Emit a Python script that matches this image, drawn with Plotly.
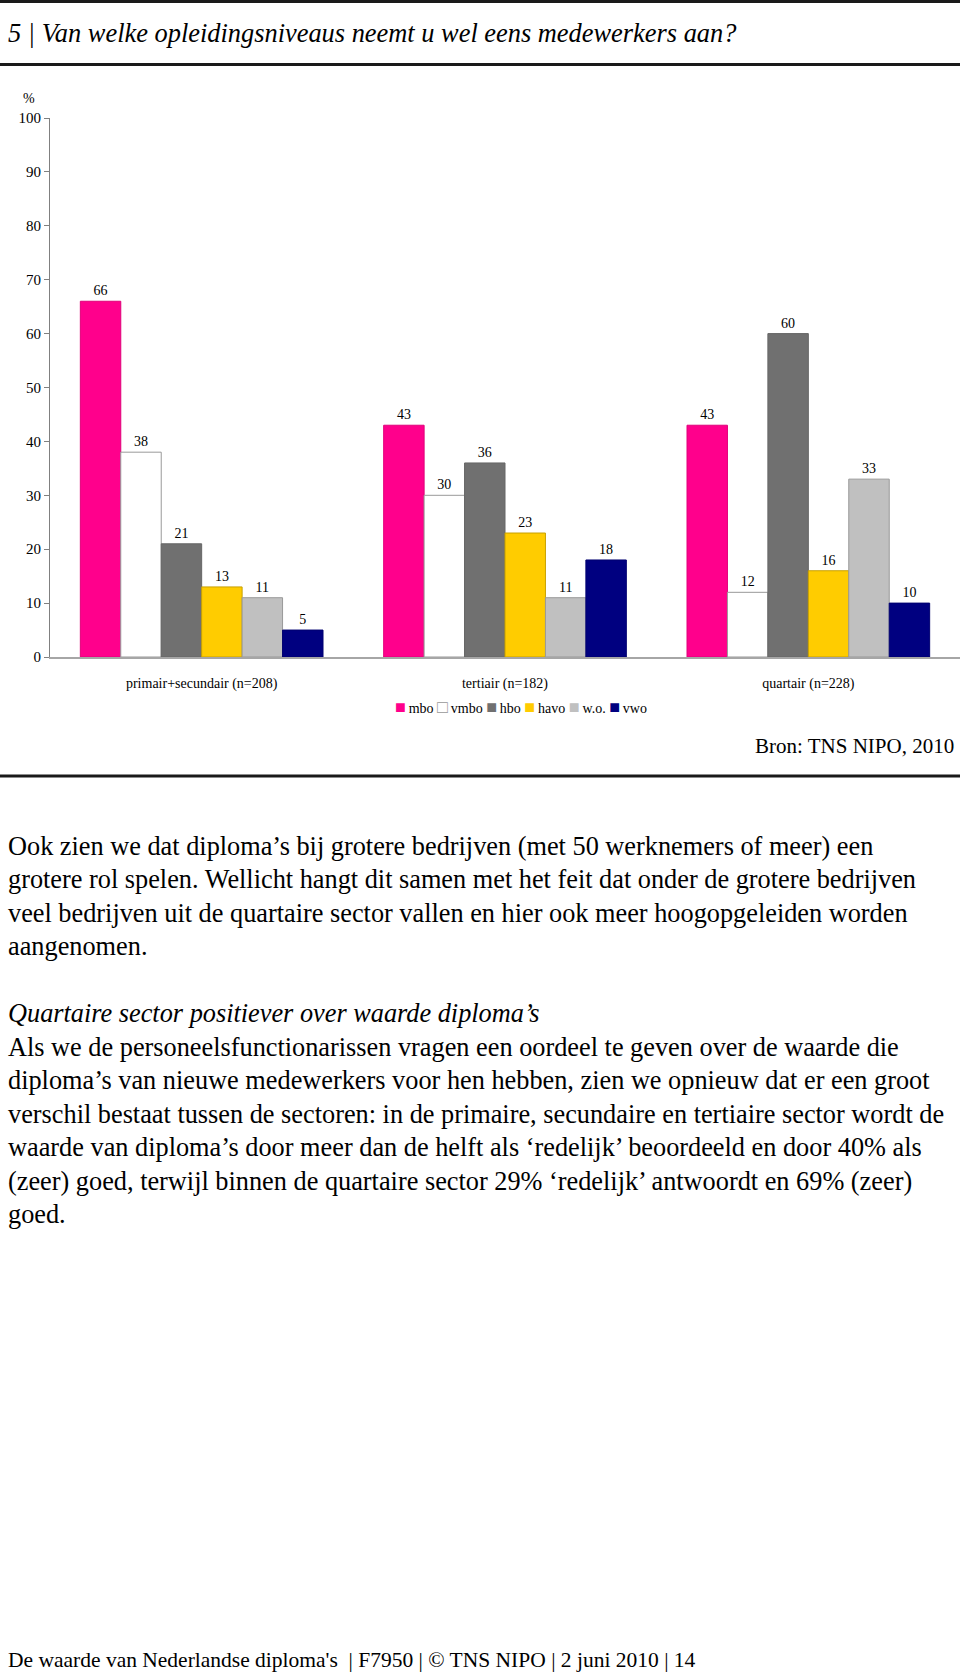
import plotly.graph_objects as go

# chart data
categories = ["primair+secundair (n=208)", "tertiair (n=182)", "quartair (n=228)"]
levels = ["mbo", "vmbo", "hbo", "havo", "w.o.", "vwo"]
mbo = [66, 43, 43]
vmbo = [38, 30, 12]
hbo = [21, 36, 60]
havo = [13, 23, 16]
wo = [11, 11, 33]
vwo = [5, 18, 10]
y_ticks = [0, 10, 20, 30, 40, 50, 60, 70, 80, 90, 100]

title_text = "5 | Van welke opleidingsniveaus neemt u wel eens medewerkers aan?"
source_text = "Bron: TNS NIPO, 2010"
footer_text = "De waarde van Nederlandse diploma's \u00a0| F7950 | \u00a9 TNS NIPO | 2 juni 2010 | 14"

para1 = [
    "Ook zien we dat diploma\u2019s bij grotere bedrijven (met 50 werknemers of meer) een",
    "grotere rol spelen. Wellicht hangt dit samen met het feit dat onder de grotere bedrijven",
    "veel bedrijven uit de quartaire sector vallen en hier ook meer hoogopgeleiden worden",
    "aangenomen.",
]
heading2 = "Quartaire sector positiever over waarde diploma\u2019s"
para2 = [
    "Als we de personeelsfunctionarissen vragen een oordeel te geven over de waarde die",
    "diploma\u2019s van nieuwe medewerkers voor hen hebben, zien we opnieuw dat er een groot",
    "verschil bestaat tussen de sectoren: in de primaire, secundaire en tertiaire sector wordt de",
    "waarde van diploma\u2019s door meer dan de helft als \u2018redelijk\u2019 beoordeeld en door 40% als",
    "(zeer) goed, terwijl binnen de quartaire sector 29% \u2018redelijk\u2019 antwoordt en 69% (zeer)",
    "goed.",
]

series = [mbo, vmbo, hbo, havo, wo, vwo]
fills = ["#FF008C", "#FFFFFF", "#707070", "#FFCC00", "#C0C0C0", "#000080"]
outlines = ["#E0007A", "#999999", "#666666", "#C8A000", "#999999", "#000070"]

FONT = "Liberation Serif, Times New Roman, serif"
W, H = 960, 1677
PLOT_L, PLOT_R = 50, 960
PLOT_T, PLOT_B = 118, 657


def px(x):
    return (x - PLOT_L) / (PLOT_R - PLOT_L)


def py(y):
    return (PLOT_B - y) / (PLOT_B - PLOT_T)


fig = go.Figure()
for name, vals, fill, edge in zip(levels, series, fills, outlines):
    fig.add_trace(
        go.Bar(
            x=categories,
            y=vals,
            name=name,
            marker=dict(color=fill, line=dict(color=edge, width=1)),
            text=vals,
            textposition="outside",
            textangle=0,
            textfont=dict(family=FONT, size=14, color="black"),
            cliponaxis=False,
        )
    )

annotations = []


def add_text(text, x, y, size, anchor="left", italic=False):
    annotations.append(
        dict(
            text=text,
            x=px(x),
            y=py(y),
            xref="paper",
            yref="paper",
            xanchor=anchor,
            yanchor="middle",
            showarrow=False,
            font=dict(family=FONT, size=size, color="black",
                      style="italic" if italic else "normal"),
        )
    )


add_text(title_text, 6, 33, 26.4, italic=True)
add_text("%", 29, 98, 14, anchor="center")

# legend row built from the series names and colours
legend_parts = []
for name, fill in zip(levels, fills):
    if fill == "#FFFFFF":
        sq = "<span style='color:#999999;font-size:18px'>\u25a1</span>"
    else:
        sq = "<span style='color:%s;font-size:18px'>\u25a0</span>" % fill
    legend_parts.append(sq + "\u2009" + name)
add_text("\u00a0".join(legend_parts), 521, 707, 14, anchor="center")

add_text(source_text, 956, 746, 21, anchor="right")

y0, step = 846, 33.5
for i, line in enumerate(para1):
    add_text(line, 6, y0 + i * step, 26.3)
add_text(heading2, 6, 1013, 26.3, italic=True)
y0 = 1047
for i, line in enumerate(para2):
    add_text(line, 6, y0 + i * step, 26.3)

add_text(footer_text, 6, 1660, 21.5)

shapes = []
for yline in [1.5, 64.5, 776]:
    shapes.append(
        dict(type="line", xref="paper", yref="paper",
             x0=px(0), x1=px(W), y0=py(yline), y1=py(yline),
             line=dict(color="#1a1a1a", width=3))
    )

fig.update_layout(
    width=W,
    height=H,
    margin=dict(l=PLOT_L, r=W - PLOT_R, t=PLOT_T, b=H - PLOT_B, pad=0),
    barmode="group",
    bargap=0.2,
    bargroupgap=0,
    showlegend=False,
    plot_bgcolor="white",
    paper_bgcolor="white",
    font=dict(family=FONT, size=14, color="black"),
    annotations=annotations,
    shapes=shapes,
    xaxis=dict(
        showline=True,
        linecolor="#A6A6A6",
        linewidth=2,
        ticks="",
        showgrid=False,
        zeroline=False,
        ticklabelstandoff=12,
        tickfont=dict(family=FONT, size=14, color="black"),
    ),
    yaxis=dict(
        range=[0, 100],
        tickvals=y_ticks,
        showline=True,
        linecolor="#808080",
        linewidth=1,
        ticks="outside",
        ticklen=5,
        tickcolor="#808080",
        showgrid=False,
        zeroline=False,
        tickfont=dict(family=FONT, size=15, color="black"),
    ),
)

fig.write_html(
    "out.html",
    config={"displayModeBar": False},
    post_script="document.body.style.margin='0';document.body.style.overflow='hidden';",
)
